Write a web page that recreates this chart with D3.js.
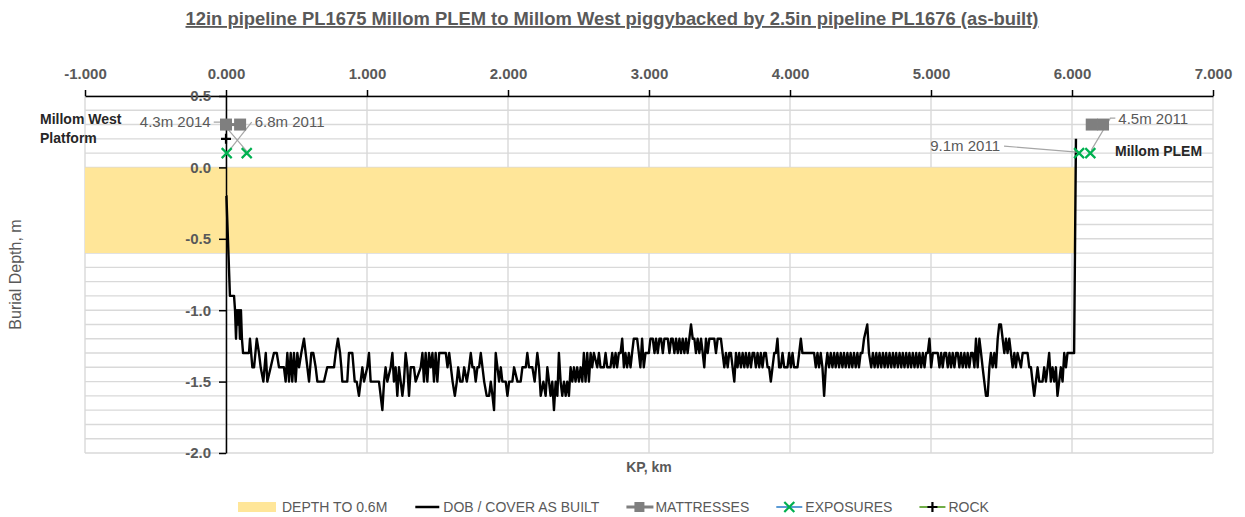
<!DOCTYPE html>
<html>
<head>
<meta charset="UTF-8">
<title>PL1675 burial depth</title>
<script src="https://d3js.org/d3.v7.min.js"></script>
<style>
  body { margin: 0; background: #fff; }
  svg text { font-family: "Liberation Sans", Arial, sans-serif; }
  .grid line { stroke: #d9d9d9; stroke-width: 1.4; }
  .axis path, .axis line { stroke: #000; stroke-width: 1.5; }
  .axis text { fill: #595959; font-size: 15px; font-weight: bold; }
</style>
</head>
<body>
<svg width="1245" height="517"></svg>
<script>

var chartTitle = "12in pipeline PL1675 Millom PLEM to Millom West piggybacked by 2.5in pipeline PL1676 (as-built)";

var kpTicks = [-1, 0, 1, 2, 3, 4, 5, 6, 7];
var depthTicks = [-2, -1.5, -1, -0.5, 0, 0.5];
var minorDepth = d3.range(-20, 6).map(function(d) { return d / 10; });

// DOB / cover as built: [KP km, depth m]
var dob = [
  [0.000,-0.2],[0.003,-0.2],[0.028,-0.9],[0.057,-0.9],[0.064,-1.0],[0.071,-1.2],[0.078,-1.0],[0.085,-1.1],
  [0.092,-1.0],[0.099,-1.2],[0.106,-1.0],[0.113,-1.2],[0.121,-1.3],[0.163,-1.3],[0.170,-1.2],[0.187,-1.4],
  [0.199,-1.4],[0.218,-1.2],[0.234,-1.3],[0.246,-1.4],[0.265,-1.5],[0.282,-1.3],[0.293,-1.5],[0.317,-1.4],
  [0.340,-1.3],[0.360,-1.3],[0.376,-1.4],[0.411,-1.4],[0.423,-1.5],[0.435,-1.3],[0.447,-1.5],[0.459,-1.3],
  [0.470,-1.5],[0.482,-1.3],[0.494,-1.5],[0.506,-1.3],[0.518,-1.4],[0.534,-1.3],[0.553,-1.2],[0.565,-1.3],
  [0.577,-1.4],[0.589,-1.5],[0.605,-1.3],[0.619,-1.3],[0.636,-1.4],[0.648,-1.5],[0.671,-1.5],[0.695,-1.5],
  [0.718,-1.4],[0.766,-1.4],[0.778,-1.3],[0.794,-1.2],[0.809,-1.3],[0.818,-1.4],[0.825,-1.5],[0.860,-1.5],
  [0.872,-1.3],[0.896,-1.3],[0.913,-1.5],[0.927,-1.5],[0.943,-1.6],[0.955,-1.5],[0.967,-1.4],[0.979,-1.5],
  [1.002,-1.4],[1.014,-1.3],[1.026,-1.5],[1.085,-1.5],[1.109,-1.7],[1.121,-1.5],[1.132,-1.4],[1.144,-1.5],
  [1.168,-1.4],[1.180,-1.3],[1.191,-1.5],[1.203,-1.4],[1.215,-1.6],[1.227,-1.4],[1.239,-1.5],[1.251,-1.6],
  [1.262,-1.5],[1.274,-1.3],[1.286,-1.4],[1.298,-1.6],[1.310,-1.4],[1.333,-1.4],[1.345,-1.5],[1.381,-1.4],
  [1.393,-1.3],[1.404,-1.5],[1.416,-1.3],[1.428,-1.5],[1.440,-1.3],[1.452,-1.4],[1.464,-1.3],[1.475,-1.5],
  [1.487,-1.3],[1.499,-1.5],[1.512,-1.3],[1.536,-1.3],[1.559,-1.3],[1.571,-1.4],[1.583,-1.3],[1.595,-1.4],
  [1.607,-1.5],[1.623,-1.6],[1.637,-1.5],[1.647,-1.4],[1.661,-1.5],[1.677,-1.5],[1.689,-1.4],[1.708,-1.5],
  [1.724,-1.4],[1.736,-1.3],[1.748,-1.4],[1.760,-1.4],[1.771,-1.5],[1.783,-1.4],[1.795,-1.4],[1.807,-1.3],
  [1.819,-1.4],[1.831,-1.5],[1.849,-1.6],[1.866,-1.6],[1.878,-1.5],[1.890,-1.6],[1.901,-1.7],[1.913,-1.3],
  [1.925,-1.4],[1.937,-1.5],[1.949,-1.4],[1.960,-1.5],[1.984,-1.5],[1.996,-1.6],[2.008,-1.5],[2.031,-1.5],
  [2.043,-1.4],[2.067,-1.5],[2.090,-1.5],[2.102,-1.4],[2.126,-1.4],[2.137,-1.3],[2.149,-1.4],[2.173,-1.4],
  [2.189,-1.5],[2.208,-1.3],[2.220,-1.4],[2.232,-1.6],[2.251,-1.5],[2.267,-1.6],[2.279,-1.4],[2.291,-1.5],
  [2.302,-1.6],[2.314,-1.5],[2.326,-1.7],[2.338,-1.5],[2.350,-1.6],[2.361,-1.3],[2.373,-1.5],[2.385,-1.6],
  [2.397,-1.5],[2.409,-1.6],[2.420,-1.5],[2.432,-1.6],[2.444,-1.4],[2.456,-1.5],[2.468,-1.4],[2.479,-1.5],
  [2.491,-1.4],[2.503,-1.5],[2.515,-1.4],[2.527,-1.5],[2.538,-1.3],[2.550,-1.5],[2.562,-1.3],[2.574,-1.5],
  [2.586,-1.3],[2.597,-1.4],[2.609,-1.3],[2.633,-1.4],[2.645,-1.3],[2.656,-1.4],[2.680,-1.4],[2.692,-1.3],
  [2.704,-1.4],[2.727,-1.4],[2.739,-1.3],[2.751,-1.4],[2.763,-1.3],[2.774,-1.4],[2.786,-1.3],[2.798,-1.3],
  [2.810,-1.2],[2.822,-1.4],[2.833,-1.3],[2.845,-1.4],[2.857,-1.3],[2.869,-1.4],[2.880,-1.3],[2.892,-1.2],
  [2.916,-1.2],[2.928,-1.3],[2.939,-1.4],[2.951,-1.2],[2.963,-1.4],[2.975,-1.3],[2.999,-1.3],[3.010,-1.2],
  [3.027,-1.2],[3.039,-1.3],[3.050,-1.2],[3.062,-1.3],[3.074,-1.2],[3.086,-1.2],[3.098,-1.3],[3.109,-1.2],
  [3.133,-1.2],[3.145,-1.3],[3.157,-1.2],[3.168,-1.2],[3.180,-1.3],[3.192,-1.2],[3.204,-1.3],[3.216,-1.2],
  [3.227,-1.3],[3.239,-1.2],[3.251,-1.3],[3.263,-1.2],[3.274,-1.3],[3.286,-1.2],[3.298,-1.1],[3.310,-1.2],
  [3.322,-1.2],[3.333,-1.3],[3.345,-1.2],[3.357,-1.3],[3.369,-1.2],[3.381,-1.3],[3.392,-1.4],[3.404,-1.2],
  [3.416,-1.3],[3.428,-1.2],[3.440,-1.2],[3.463,-1.2],[3.475,-1.3],[3.487,-1.2],[3.510,-1.2],[3.522,-1.3],
  [3.534,-1.4],[3.546,-1.3],[3.558,-1.4],[3.569,-1.3],[3.581,-1.3],[3.593,-1.4],[3.605,-1.5],[3.617,-1.3],
  [3.628,-1.4],[3.640,-1.3],[3.652,-1.4],[3.664,-1.3],[3.676,-1.4],[3.687,-1.3],[3.699,-1.4],[3.711,-1.3],
  [3.723,-1.4],[3.735,-1.3],[3.746,-1.3],[3.758,-1.4],[3.770,-1.3],[3.782,-1.4],[3.793,-1.3],[3.805,-1.4],
  [3.817,-1.3],[3.829,-1.3],[3.841,-1.4],[3.852,-1.4],[3.864,-1.5],[3.876,-1.4],[3.888,-1.3],[3.900,-1.3],
  [3.911,-1.2],[3.923,-1.4],[3.935,-1.4],[3.947,-1.3],[3.959,-1.4],[3.982,-1.4],[3.994,-1.3],[4.006,-1.4],
  [4.018,-1.3],[4.029,-1.4],[4.053,-1.4],[4.065,-1.3],[4.077,-1.2],[4.088,-1.3],[4.100,-1.3],[4.124,-1.3],
  [4.147,-1.3],[4.171,-1.3],[4.183,-1.4],[4.195,-1.3],[4.206,-1.4],[4.218,-1.3],[4.230,-1.4],[4.242,-1.6],
  [4.254,-1.4],[4.265,-1.3],[4.277,-1.4],[4.289,-1.3],[4.301,-1.4],[4.313,-1.3],[4.324,-1.4],[4.336,-1.3],
  [4.348,-1.4],[4.360,-1.3],[4.372,-1.4],[4.383,-1.3],[4.395,-1.4],[4.407,-1.3],[4.419,-1.4],[4.430,-1.3],
  [4.442,-1.4],[4.454,-1.3],[4.466,-1.4],[4.478,-1.3],[4.489,-1.4],[4.501,-1.3],[4.513,-1.3],[4.525,-1.2],
  [4.548,-1.1],[4.560,-1.3],[4.576,-1.4],[4.588,-1.3],[4.600,-1.4],[4.612,-1.3],[4.623,-1.4],[4.635,-1.3],
  [4.647,-1.4],[4.659,-1.3],[4.671,-1.4],[4.682,-1.3],[4.694,-1.4],[4.706,-1.3],[4.718,-1.4],[4.730,-1.3],
  [4.741,-1.4],[4.753,-1.3],[4.765,-1.4],[4.777,-1.3],[4.789,-1.4],[4.800,-1.3],[4.812,-1.4],[4.824,-1.3],
  [4.836,-1.4],[4.847,-1.3],[4.859,-1.4],[4.871,-1.3],[4.883,-1.4],[4.895,-1.3],[4.906,-1.4],[4.918,-1.3],
  [4.930,-1.4],[4.942,-1.3],[4.954,-1.4],[4.965,-1.3],[4.977,-1.3],[4.989,-1.2],[5.001,-1.4],[5.013,-1.3],
  [5.048,-1.3],[5.060,-1.4],[5.072,-1.3],[5.083,-1.4],[5.095,-1.3],[5.107,-1.3],[5.119,-1.4],[5.131,-1.3],
  [5.142,-1.4],[5.154,-1.3],[5.166,-1.4],[5.178,-1.3],[5.190,-1.3],[5.201,-1.4],[5.213,-1.3],[5.225,-1.4],
  [5.237,-1.3],[5.249,-1.4],[5.260,-1.3],[5.272,-1.4],[5.284,-1.3],[5.296,-1.3],[5.308,-1.4],[5.319,-1.2],
  [5.331,-1.4],[5.343,-1.2],[5.355,-1.3],[5.366,-1.4],[5.378,-1.5],[5.390,-1.6],[5.402,-1.6],[5.414,-1.4],
  [5.425,-1.3],[5.437,-1.4],[5.449,-1.3],[5.461,-1.4],[5.473,-1.2],[5.484,-1.1],[5.496,-1.1],[5.508,-1.2],
  [5.520,-1.3],[5.532,-1.2],[5.543,-1.3],[5.555,-1.2],[5.567,-1.3],[5.579,-1.4],[5.591,-1.3],[5.602,-1.4],
  [5.614,-1.3],[5.638,-1.4],[5.650,-1.3],[5.685,-1.3],[5.697,-1.4],[5.709,-1.4],[5.720,-1.5],[5.732,-1.6],
  [5.744,-1.5],[5.756,-1.4],[5.768,-1.5],[5.791,-1.5],[5.803,-1.4],[5.815,-1.5],[5.827,-1.4],[5.838,-1.3],
  [5.850,-1.5],[5.862,-1.4],[5.874,-1.5],[5.886,-1.4],[5.897,-1.6],[5.909,-1.5],[5.921,-1.4],[5.933,-1.5],
  [5.945,-1.3],[5.957,-1.4],[5.968,-1.3],[6.003,-1.3],[6.015,-1.3],[6.028,0.2]
];

// depth to 0.6m band
var bandKp = [-1, 6.02];
var bandDepth = -0.6;

// mattresses (pairs of markers joined by a line)
var mattressKp = [[0.0, 0.1], [6.14, 6.22]];
var mattressDepth = 0.3;

// exposures
var exposureKp = [0.005, 0.147, 6.05, 6.13];
var exposureDepth = [0.1, 0.1, 0.1, 0.1];
var exposureLabels = ["6.8m 2011", "4.3m 2014", "9.1m 2011", "4.5m 2011"];

// rock
var rockKp = [0.0];
var rockDepth = [0.2];

var siteNames = [["Millom West", "Platform"], ["Millom PLEM"]];
var legendNames = ["DEPTH TO 0.6M", "DOB / COVER AS BUILT", "MATTRESSES", "EXPOSURES", "ROCK"];

var svg = d3.select("svg");

var x = d3.scaleLinear().domain([-1, 7]).range([85, 1213]);
var y = d3.scaleLinear().domain([-2, 0.5]).range([453, 96]);

// title
svg.append("text")
  .attr("x", 612)
  .attr("y", 25)
  .attr("text-anchor", "middle")
  .attr("fill", "#595959")
  .style("font-size", "18.4px")
  .style("font-weight", "bold")
  .style("text-decoration", "underline")
  .text(chartTitle);

// gridlines
var grid = svg.append("g").attr("class", "grid");
grid.selectAll(".h").data(minorDepth).enter().append("line")
  .attr("x1", x(-1)).attr("x2", x(7))
  .attr("y1", function(d) { return y(d); })
  .attr("y2", function(d) { return y(d); });
grid.selectAll(".v").data(kpTicks).enter().append("line")
  .attr("x1", function(d) { return x(d); })
  .attr("x2", function(d) { return x(d); })
  .attr("y1", y(0.5)).attr("y2", y(-2));

// yellow band
svg.append("path")
  .datum(bandKp)
  .attr("fill", "#ffe699")
  .attr("d", d3.area()
    .x(function(d) { return x(d); })
    .y0(y(0))
    .y1(y(bandDepth)));

// axes
svg.append("g")
  .attr("class", "axis")
  .attr("transform", "translate(0," + y(0.5) + ")")
  .call(d3.axisTop(x).tickValues(kpTicks).tickSize(6).tickSizeOuter(0).tickPadding(11)
    .tickFormat(function(d) { return d.toFixed(3); }));

svg.append("g")
  .attr("class", "axis")
  .attr("transform", "translate(" + x(0) + ",0)")
  .call(d3.axisLeft(y).tickValues(depthTicks).tickSize(7).tickSizeOuter(0).tickPadding(8)
    .tickFormat(function(d) { return d.toFixed(1); }));

svg.selectAll(".axis text").attr("font-family", null).attr("font-size", null);

// axis titles
svg.append("text")
  .attr("x", x(3))
  .attr("y", 472)
  .attr("text-anchor", "middle")
  .attr("fill", "#595959")
  .style("font-size", "14px")
  .style("font-weight", "bold")
  .text("KP, km");

svg.append("text")
  .attr("transform", "translate(21," + y(-0.75) + ") rotate(-90)")
  .attr("text-anchor", "middle")
  .attr("fill", "#595959")
  .style("font-size", "16px")
  .text("Burial Depth, m");

// DOB line
svg.append("path")
  .datum(dob)
  .attr("fill", "none")
  .attr("stroke", "#000")
  .attr("stroke-width", 2.4)
  .attr("stroke-linejoin", "round")
  .attr("d", d3.line()
    .x(function(d) { return x(d[0]); })
    .y(function(d) { return y(d[1]); }));

// exposure label leaders (offsets from the exposure point)
var labelLayout = [
  { dx: 28, dy: -31, anchor: "start", leader: [[25, -31], [2, -2]] },
  { dx: -36, dy: -31, anchor: "end", leader: [[-33, -31], [-25, -31], [0, -2]] },
  { dx: -79, dy: -7, anchor: "end", leader: [[-75, -7], [-2, -1]] },
  { dx: 28, dy: -34, anchor: "start", leader: [[25, -35], [20, -35], [1, -3]] }
];

var labels = svg.append("g");
exposureKp.forEach(function(k, i) {
  var px = x(k), py = y(exposureDepth[i]), L = labelLayout[i];
  labels.append("path")
    .attr("fill", "none")
    .attr("stroke", "#a6a6a6")
    .attr("stroke-width", 1.2)
    .attr("d", d3.line()(L.leader.map(function(p) { return [px + p[0], py + p[1]]; })));
  labels.append("text")
    .attr("x", px + L.dx)
    .attr("y", py + L.dy)
    .attr("dy", "0.35em")
    .attr("text-anchor", L.anchor)
    .attr("fill", "#595959")
    .style("font-size", "15px")
    .text(exposureLabels[i]);
});

// mattresses
var matt = svg.append("g");
mattressKp.forEach(function(pair) {
  matt.append("line")
    .attr("x1", x(pair[0])).attr("x2", x(pair[1]))
    .attr("y1", y(mattressDepth)).attr("y2", y(mattressDepth))
    .attr("stroke", "#7f7f7f").attr("stroke-width", 3);
  matt.selectAll(null).data(pair).enter().append("rect")
    .attr("x", function(d) { return x(d) - 6; })
    .attr("y", y(mattressDepth) - 6)
    .attr("width", 12).attr("height", 12)
    .attr("fill", "#7f7f7f");
});

// exposures
var xMark = "M-5,-5L5,5M-5,5L5,-5";
var plusMark = "M-5,0L5,0M0,-5L0,5";
svg.append("g").selectAll("path")
  .data(exposureKp).enter().append("path")
  .attr("transform", function(d, i) { return "translate(" + x(d) + "," + y(exposureDepth[i]) + ")"; })
  .attr("d", xMark)
  .attr("stroke", "#00b050")
  .attr("stroke-width", 2.2)
  .attr("fill", "none");

// rock
svg.append("g").selectAll("path")
  .data(rockKp).enter().append("path")
  .attr("transform", function(d, i) { return "translate(" + x(d) + "," + y(rockDepth[i]) + ")"; })
  .attr("d", plusMark)
  .attr("stroke", "#000")
  .attr("stroke-width", 2.2);

// site names
svg.append("text")
  .attr("x", 40).attr("y", 124)
  .attr("fill", "#262626")
  .style("font-size", "14px").style("font-weight", "bold")
  .selectAll("tspan").data(siteNames[0]).enter().append("tspan")
  .attr("x", 40)
  .attr("dy", function(d, i) { return i ? 19 : 0; })
  .text(function(d) { return d; });

svg.append("text")
  .attr("x", 1115).attr("y", 156)
  .attr("fill", "#262626")
  .style("font-size", "14px").style("font-weight", "bold")
  .text(siteNames[1][0]);

// legend: text sits 44px after the item start
var legend = svg.append("g");
var lx = 238, ly = 507;
legendNames.forEach(function(name, i) {
  var g = legend.append("g").attr("transform", "translate(" + lx + "," + ly + ")");
  if (i === 0) {
    g.append("rect").attr("x", 0).attr("y", -5).attr("width", 38).attr("height", 10).attr("fill", "#ffe699");
  } else if (i === 1) {
    g.append("line").attr("x1", 16).attr("x2", 40).attr("stroke", "#000").attr("stroke-width", 2.5);
  } else if (i === 2) {
    g.append("line").attr("x1", 15).attr("x2", 42).attr("stroke", "#7f7f7f").attr("stroke-width", 3);
    g.append("rect").attr("x", 23).attr("y", -5).attr("width", 10).attr("height", 10).attr("fill", "#7f7f7f");
  } else if (i === 3) {
    g.append("line").attr("x1", 15).attr("x2", 41).attr("stroke", "#5b9bd5").attr("stroke-width", 2);
    g.append("path").attr("transform", "translate(28,0)").attr("d", xMark)
      .attr("stroke", "#00b050").attr("stroke-width", 2.2);
  } else {
    g.append("line").attr("x1", 15).attr("x2", 41).attr("stroke", "#70ad47").attr("stroke-width", 2);
    g.append("path").attr("transform", "translate(28,0)").attr("d", plusMark)
      .attr("stroke", "#000").attr("stroke-width", 2.2);
  }
  var t = g.append("text")
    .attr("x", 44)
    .attr("dy", "0.35em")
    .attr("fill", "#595959")
    .style("font-size", "14px")
    .text(name);
  lx += 44 + t.node().getComputedTextLength() + 12;
});

</script>
</body>
</html>
